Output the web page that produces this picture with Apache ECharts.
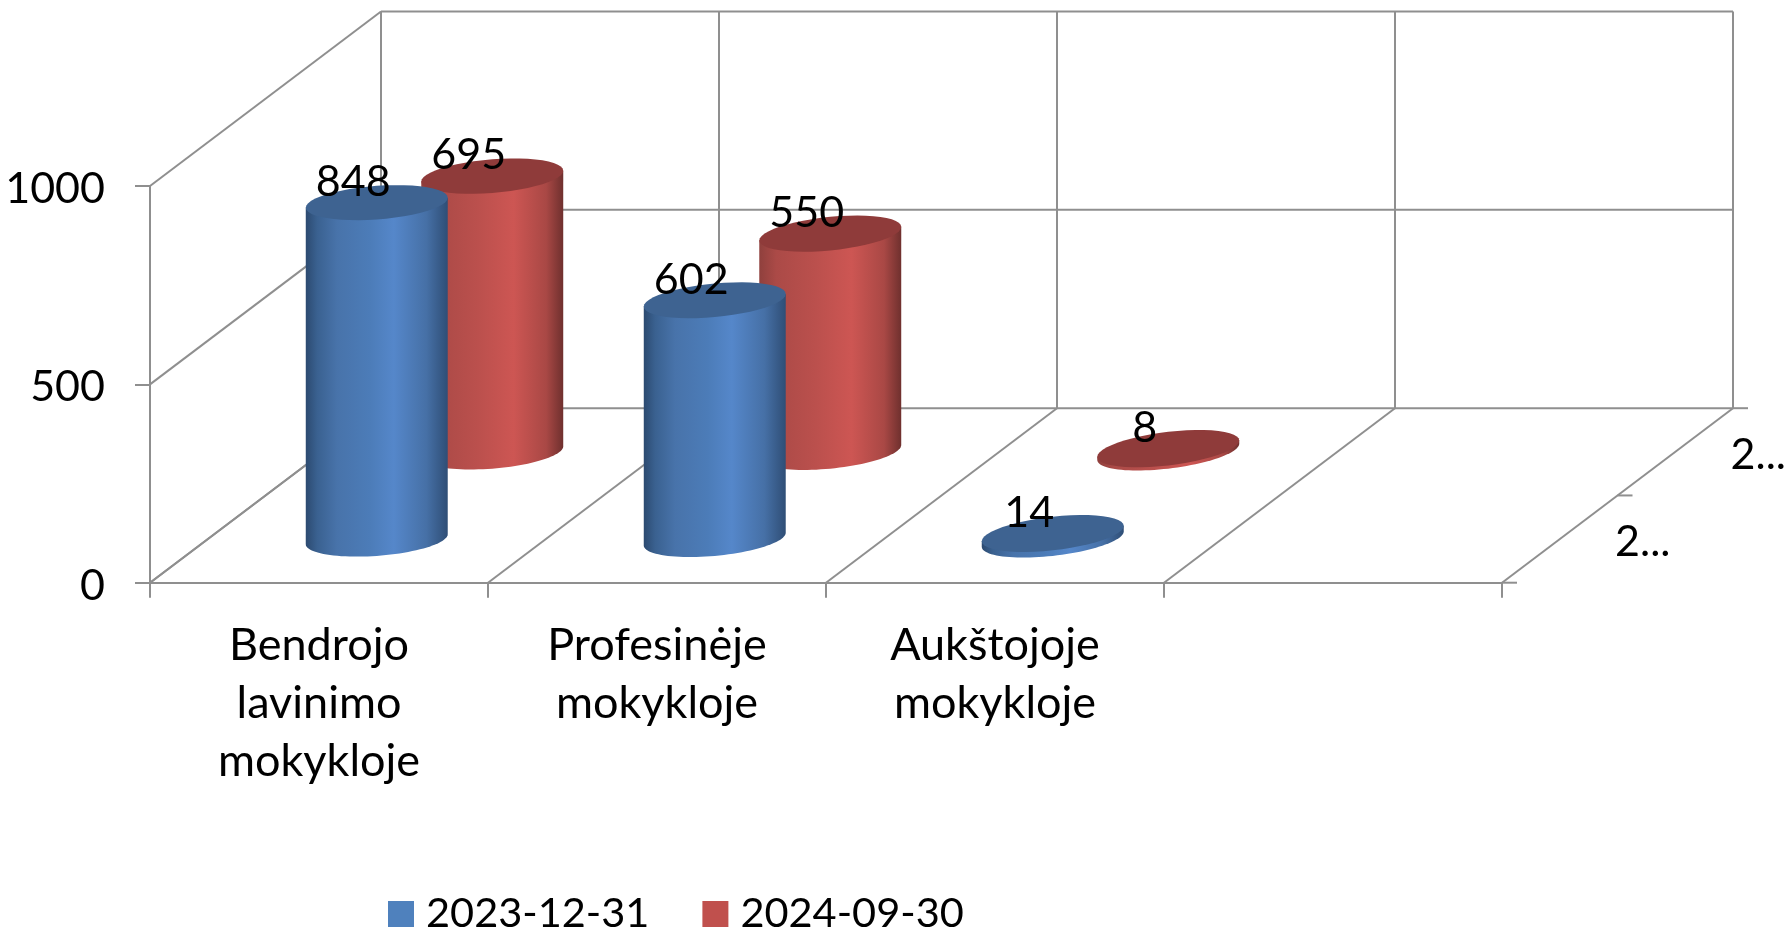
<!DOCTYPE html>
<html><head><meta charset="utf-8">
<style>html,body{margin:0;padding:0;background:#fff}#c{width:1788px;height:931px}</style>
<script src="https://cdn.jsdelivr.net/npm/echarts@6/dist/echarts.min.js"></script>
</head><body><div id="c"></div>
<script>
const categories = ['Bendrojo\nlavinimo\nmokykloje', 'Profesinėje\nmokykloje', 'Aukštojoje\nmokykloje', ''];
const seriesNames = ['2023-12-31', '2024-09-30'];
const values2023 = [848, 602, 14];
const values2024 = [695, 550, 8];
const yTicks = [0, 500, 1000];
const depthLabels = ['2...', '2...'];

const FONT = 'Lato';
const FS_NUM = 43, FS_CAT = 45, FS_LEG = 41.5;
const GRID_C = '#8f8f8f';
const DDX = 231, DDY = -174.5;
const TICK = 15;
const DEPTHS = [0.25, 0.75];
const LOOK = [
  {top:'#3e6391', stops:[[0,'#2c4a70'],[0.08,'#3a6190'],[0.22,'#4873aa'],[0.45,'#4c7cb8'],[0.62,'#5587ca'],[0.85,'#4670a6'],[1,'#2f4e76']]},
  {top:'#8f3b3a', stops:[[0,'#8f403d'],[0.12,'#ab4a47'],[0.4,'#bb504d'],[0.65,'#cd5653'],[0.88,'#a94845'],[1,'#6f302e']]}
];

function arc(cx, cy, rx, ry, k, t0, t1) {
  const p = [];
  for (let i = 0; i <= 48; i++) {
    const t = t0 + (t1 - t0) * i / 48;
    p.push([cx + rx * Math.cos(t), cy + ry * Math.sin(t) - k * Math.cos(t)]);
  }
  return p;
}

function cylinder(params, api) {
  const si = params.seriesIndex - 1;
  const cat = api.value(0), val = api.value(1);
  const band = api.size([1, 0])[0];
  const d = DEPTHS[si];
  const base = api.coord([cat, 0]), top = api.coord([cat, val]);
  const cx = base[0] + d * DDX, by = base[1] + d * DDY, ty = top[1] + d * DDY;
  const rx = band * 0.21, ry = 16.8, k = 5 + 0.004 * (cx - 376);
  const bottom = arc(cx, by, rx, ry, k, 0, Math.PI);
  const body = [[cx - rx, ty + k], [cx + rx, ty - k]].concat(bottom);
  const colors = LOOK[si];
  return {type:'group', children:[
    {type:'polygon', shape:{points:body}, style:{
      fill:new echarts.graphic.LinearGradient(0,0,1,0,colors.stops.map(s=>({offset:s[0],color:s[1]})))}},
    {type:'polygon', shape:{points:arc(cx, ty, rx, ry, k, 0, 2*Math.PI)}, style:{fill:colors.top}},
    {type:'text', x:cx - 23.5, y:ty - 20.5, style:{text:String(val), font:FS_NUM+'px '+FONT, fill:'#000', align:'center', verticalAlign:'middle'}}
  ]};
}

function walls(params, api) {
  const band = api.size([1, 0])[0];
  const line = (a, b) => ({type:'line', shape:{x1:a[0],y1:a[1],x2:b[0],y2:b[1]}, style:{stroke:GRID_C, lineWidth:2}});
  const back = p => [p[0] + DDX, p[1] + DDY];
  const kids = [];
  const left = y => { const c = api.coord([0, y]); return [c[0] - band/2, c[1]]; };
  const right = y => { const c = api.coord([categories.length - 1, y]); return [c[0] + band/2, c[1]]; };
  yTicks.forEach(y => {
    kids.push(line(left(y), back(left(y))));
    kids.push(line(back(left(y)), back(right(y))));
  });
  const yMax = yTicks[yTicks.length - 1];
  for (let i = 0; i <= categories.length; i++) {
    const f = api.coord([0, 0]), t = api.coord([0, yMax]);
    const x = f[0] - band/2 + i * band;
    kids.push(line([x, f[1]], back([x, f[1]])));
    kids.push(line(back([x, f[1]]), back([x, t[1]])));
  }
  const fr = right(0), br = back(fr);
  kids.push(line(fr, [fr[0] + TICK, fr[1]]));
  kids.push(line(br, [br[0] + TICK, br[1]]));
  const mid = [fr[0] + DDX/2, fr[1] + DDY/2];
  kids.push(line(mid, [mid[0] + TICK, mid[1]]));
  depthLabels.forEach((s, i) => {
    const d = DEPTHS[i];
    kids.push({type:'text', x:fr[0] + d*DDX + 83, y:fr[1] + d*DDY + 3, style:{text:s, font:FS_NUM+'px '+FONT, fill:'#000', align:'center', verticalAlign:'middle'}});
  });
  return {type:'group', children:kids};
}

const chart = echarts.init(document.getElementById('c'), null, {renderer:'canvas'});
chart.setOption({
  animation:false,
  backgroundColor:'#fff',
  textStyle:{fontFamily:FONT},
  grid:{left:150, top:186, width:1352, height:396.7, containLabel:false},
  legend:{data:seriesNames, left:388, top:893, padding:0, itemWidth:26, itemHeight:26, itemGap:53, icon:'rect',
    textStyle:{fontFamily:FONT, fontSize:FS_LEG, color:'#000', padding:[2,0,0,7]}},
  xAxis:{type:'category', data:categories, boundaryGap:true,
    axisLine:{show:true, lineStyle:{color:GRID_C, width:2}},
    axisTick:{show:true, alignWithLabel:false, interval:0, length:TICK, lineStyle:{color:GRID_C, width:2}},
    axisLabel:{fontFamily:FONT, fontSize:FS_CAT, color:'#000', lineHeight:58, margin:34, interval:0}},
  yAxis:{type:'value', min:0, max:1000, interval:500,
    axisLine:{show:true, lineStyle:{color:GRID_C, width:2}},
    axisTick:{show:true, length:TICK, lineStyle:{color:GRID_C, width:2}},
    axisLabel:{fontFamily:FONT, fontSize:FS_NUM, color:'#000', margin:45, padding:[0,0,0,0],
      formatter:v=>'{n|'+v+'}', rich:{n:{fontFamily:FONT, fontSize:FS_NUM, color:'#000', padding:[6,0,0,0]}}},
    splitLine:{show:false}},
  series:[
    {type:'custom', name:'walls', silent:true, z:1, renderItem:walls, data:[[0,0]], encode:{x:0,y:1}, tooltip:{show:false}},
    {type:'custom', name:seriesNames[0], z:4, itemStyle:{color:'#4f81bd'}, renderItem:cylinder, encode:{x:0,y:1}, data:values2023.map((v,i)=>[i,v])},
    {type:'custom', name:seriesNames[1], z:3, itemStyle:{color:'#c0504d'}, renderItem:cylinder, encode:{x:0,y:1}, data:values2024.map((v,i)=>[i,v])}
  ]
});
</script></body></html>
